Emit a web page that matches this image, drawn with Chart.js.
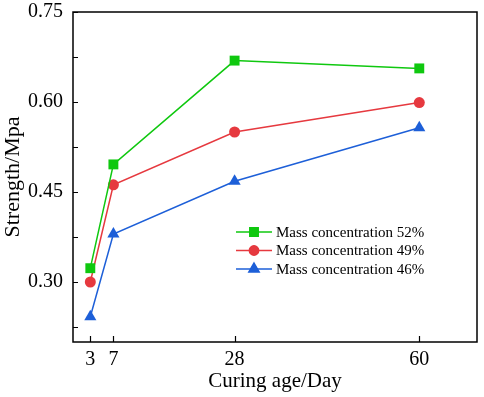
<!DOCTYPE html>
<html>
<head>
<meta charset="utf-8">
<script src="https://cdn.jsdelivr.net/npm/chart.js@4"></script>
<style>
  html, body { margin: 0; padding: 0; background: #fff; }
  #wrap { width: 484px; height: 397px; }
</style>
</head>
<body>
<div id="wrap"><canvas id="chart" width="484" height="397"></canvas></div>
<script>
// Curing ages (days) and strengths (MPa)
const curingDays = [3, 7, 28, 60];
const mass52 = [0.323, 0.496, 0.669, 0.656];
const mass49 = [0.300, 0.462, 0.550, 0.599];
const mass46 = [0.242, 0.380, 0.468, 0.557];

const yTickValues = [0.225, 0.30, 0.375, 0.45, 0.525, 0.60, 0.675, 0.75];
const yLabelled = [0.30, 0.45, 0.60, 0.75];

const serif = "'Liberation Serif', 'Times New Roman', serif";

function toPoints(values) {
  return curingDays.map((d, i) => ({ x: d, y: values[i] }));
}

// frame + inward ticks
const framePlugin = {
  id: 'frame',
  afterDatasetsDraw(chart) {
    const { ctx, chartArea: a, scales } = chart;
    ctx.save();
    ctx.strokeStyle = '#000';
    ctx.lineWidth = 1.5;
    ctx.strokeRect(a.left, a.top, a.right - a.left, a.bottom - a.top);
    ctx.lineWidth = 1.2;
    ctx.beginPath();
    yTickValues.forEach(v => {
      const y = Math.round(scales.y.getPixelForValue(v)) + 0.5;
      ctx.moveTo(a.left, y);
      ctx.lineTo(a.left + 5, y);
    });
    curingDays.forEach(d => {
      const x = Math.round(scales.x.getPixelForValue(d)) + 0.5;
      ctx.moveTo(x, a.bottom);
      ctx.lineTo(x, a.bottom - 6);
    });
    ctx.stroke();
    ctx.restore();
  }
};

// legend inside the plot, line + marker sample
const legendPlugin = {
  id: 'innerLegend',
  afterDraw(chart) {
    const { ctx } = chart;
    const x0 = 236, x1 = 272, top = 232, gap = 18.5;
    ctx.save();
    chart.data.datasets.forEach((ds, i) => {
      const y = top + i * gap;
      ctx.strokeStyle = ds.borderColor;
      ctx.lineWidth = 1.5;
      ctx.beginPath();
      ctx.moveTo(x0, y);
      ctx.lineTo(x1, y);
      ctx.stroke();
      Chart.helpers.drawPoint(ctx, {
        pointStyle: ds.pointStyle,
        radius: ds.pointRadius * 0.85,
        rotation: 0,
        borderWidth: 1
      }, (x0 + x1) / 2, y);
      ctx.fillStyle = ds.borderColor;
      ctx.strokeStyle = ds.borderColor;
      ctx.fill();
      ctx.fillStyle = '#000';
      ctx.font = '15px ' + serif;
      ctx.textBaseline = 'middle';
      ctx.fillText(ds.label, x1 + 4, y + 1);
    });
    ctx.restore();
  }
};

new Chart(document.getElementById('chart'), {
  type: 'line',
  data: {
    datasets: [
      {
        label: 'Mass concentration 52%',
        data: toPoints(mass52),
        borderColor: '#0fc80f',
        backgroundColor: '#0fc80f',
        pointStyle: 'rect',
        pointRadius: 7
      },
      {
        label: 'Mass concentration 49%',
        data: toPoints(mass49),
        borderColor: '#e6393f',
        backgroundColor: '#e6393f',
        pointStyle: 'circle',
        pointRadius: 5.5
      },
      {
        label: 'Mass concentration 46%',
        data: toPoints(mass46),
        borderColor: '#1d5fd8',
        backgroundColor: '#1d5fd8',
        pointStyle: 'triangle',
        pointRadius: 7
      }
    ]
  },
  options: {
    responsive: false,
    animation: false,
    layout: { padding: { top: 12, right: 3, left: 0, bottom: 0 } },
    elements: {
      line: { borderWidth: 1.5, tension: 0 },
      point: { borderWidth: 0, hoverRadius: 7 }
    },
    plugins: {
      legend: { display: false },
      tooltip: { enabled: false }
    },
    scales: {
      x: {
        type: 'linear',
        min: 0,
        max: 70,
        afterBuildTicks(scale) {
          scale.ticks = curingDays.map(v => ({ value: v }));
        },
        afterFit(scale) {
          scale.height = 55;
          scale.paddingLeft = 0;
          scale.paddingRight = 0;
        },
        grid: { display: false, drawTicks: false },
        border: { display: false },
        ticks: {
          padding: 6,
          color: '#000',
          font: { family: serif, size: 20 },
          maxRotation: 0,
          autoSkip: false
        },
        title: {
          display: true,
          text: 'Curing age/Day',
          color: '#000',
          font: { family: serif, size: 21 },
          padding: { top: 0, bottom: 3 }
        }
      },
      y: {
        min: 0.2,
        max: 0.75,
        afterBuildTicks(scale) {
          scale.ticks = yTickValues.map(v => ({ value: v }));
        },
        afterFit(scale) {
          scale.width = 73;
          scale.paddingTop = 0;
          scale.paddingBottom = 0;
        },
        grid: { display: false, drawTicks: false },
        border: { display: false },
        ticks: {
          padding: 10,
          color: '#000',
          font: { family: serif, size: 20 },
          autoSkip: false,
          callback: v => yLabelled.some(t => Math.abs(t - v) < 1e-6) ? v.toFixed(2) : ''
        },
        title: {
          display: true,
          text: 'Strength/Mpa',
          color: '#000',
          font: { family: serif, size: 22 },
          padding: { top: 0, bottom: 0 }
        }
      }
    }
  },
  plugins: [framePlugin, legendPlugin]
});
</script>
</body>
</html>
